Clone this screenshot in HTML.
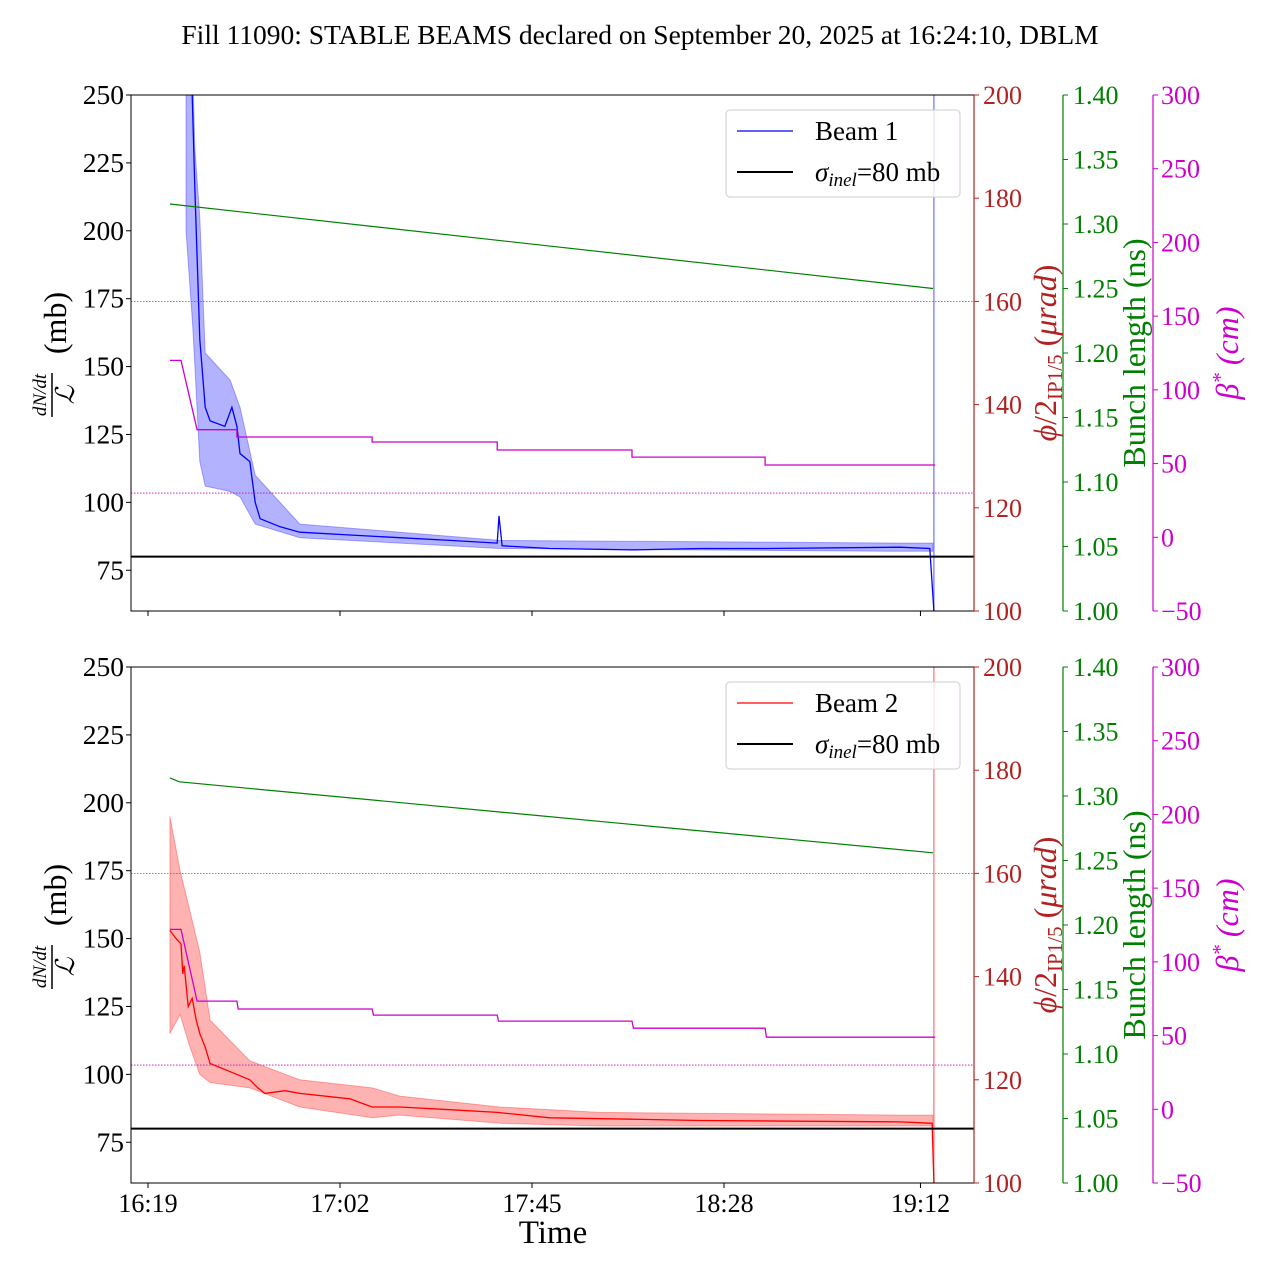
<!DOCTYPE html>
<html><head><meta charset="utf-8"><style>
body{margin:0;background:#fff}
svg text{font-family:"Liberation Serif",serif;}
</style></head><body>
<svg id="chart" width="1280" height="1280" viewBox="0 0 1280 1280" xmlns="http://www.w3.org/2000/svg">
<text x="640" y="44" font-size="27.5" text-anchor="middle">Fill 11090: STABLE BEAMS declared on September 20, 2025 at 16:24:10, DBLM</text>
<g id="root"></g>
</svg>
<script>
// time in minutes since 16:19
const xTickLabels=["16:19","17:02","17:45","18:28","19:12"];
const xTickMinutes=[0,43,86,129,173];
const leftTicks=[75,100,125,150,175,200,225,250];
const redTicks=[100,120,140,160,180,200];
const greenTicks=[1.00,1.05,1.10,1.15,1.20,1.25,1.30,1.35,1.40];
const magTicks=[-50,0,50,100,150,200,250,300];

const b1Time=[8.5,9.9,10.5,11.6,12.8,13.9,17.2,18.8,19.9,20.6,22.8,24.0,25.1,29.6,34.0,45.2,56.4,67.6,78.2,78.6,79.3,90.0,108.4,123.6,138.2,168.4,175.1,176.0];
const b1Value=[280,250,215,160,135,130,128,135,128,118,115,100,94,91,89,88,87,86,85,95,84,83,82.5,83,83,83.5,83,60];
const b1BandTime=[8.5,10.0,10.5,11.6,12.8,18.4,20.6,24.0,34.0,56.4,78.8,168.4,175.8];
const b1Upper=[300,260,230,205,155,145,135,110,92,89,86,85,85];
const b1Lower=[200,165,150,115,106,104,102,92,87,85,83,82,82];

const b2Time=[4.9,6.3,7.4,7.8,8.1,9.0,9.9,10.8,11.6,12.8,13.9,18.4,22.8,24.6,26.2,30.7,34.0,45.2,50.2,56.4,67.6,78.2,90.0,108.4,123.6,168.4,175.6,176.0];
const b2Value=[153,150,148,137,140,125,128,120,115,110,104,101,98,95,93,94,93,91,88,88,87,86,84,83.5,83,82.5,82,60];
const b2BandTime=[4.9,7.2,9.4,11.6,13.9,22.8,34.0,50.2,56.4,78.8,101.2,168.4,175.8];
const b2Upper=[195,175,160,145,120,105,98,95,92,88,86,85,85];
const b2Lower=[115,122,110,100,97,95,88,84,85,82,81,81,81];

const bunchTime1=[4.9,175.8];const bunch1=[1.3155,1.250];
const bunchTime2=[4.9,7.0,175.8];const bunch2=[1.314,1.311,1.256];
const betaTime1=[4.9,7.4,11.0,19.9,19.9,50.2,50.2,78.2,78.2,108.4,108.4,138.2,138.2,176.3];
const beta1=[120,120,73,73,68,68,64.6,64.6,59.2,59.2,54.4,54.4,49,49];
const betaTime2=[4.9,7.4,11.0,19.9,20.2,50.2,50.5,78.2,78.5,108.4,108.7,138.2,138.5,176.3];
const beta2=[122,122,73.4,73.4,68,68,63.9,63.9,59.8,59.8,55,55,48.9,48.9];
const crossingAngle=160, betaRef=30, sigmaInel=80, dumpTime=176.0;

const NS="http://www.w3.org/2000/svg";
const root=document.getElementById('root');
function el(tag,attrs,parent){const e=document.createElementNS(NS,tag);for(const k in attrs)e.setAttribute(k,attrs[k]);(parent||root).appendChild(e);return e;}
const X0=131,X1=974;
const xs=t=>148+t*192/43;
function pts(ts,vs,fx,fy){return ts.map((t,i)=>fx(t).toFixed(1)+','+fy(vs[i]).toFixed(1)).join(' ');}

function panel(top,idx,bt,bv,bbt,bu,bl,color,fillc,bunchT,bunch,betaT,beta,legendText){
  const bot=top+516;
  const yL=v=>bot-(v-60)/190*516;
  const yR=v=>bot-(v-100)/100*516;
  const yG=v=>bot-(v-1.0)/0.4*516;
  const yM=v=>bot-(v+50)/350*516;
  const g=el('g',{});
  
  
  const cid='clip'+idx;
  const cp=el('clipPath',{id:cid},g);el('rect',{x:X0,y:top,width:X1-X0,height:516},cp);
  const pg=el('g',{'clip-path':'url(#'+cid+')'},g);
  const up=bbt.map((t,i)=>xs(t).toFixed(1)+','+yL(bu[i]).toFixed(1));
  const lo=bbt.map((t,i)=>xs(t).toFixed(1)+','+yL(bl[i]).toFixed(1)).reverse();
  const band=el('polygon',{points:up.concat(lo).join(' '),fill:fillc,'fill-opacity':0.3,stroke:fillc,'stroke-opacity':0.3},pg);
  
  
  const dl=el('line',{x1:xs(dumpTime),x2:xs(dumpTime),y1:top,y2:bot,stroke:color,'stroke-opacity':0.45,'stroke-width':1.5},pg);
  
  
  const ln=el('polyline',{points:pts(bt,bv,xs,yL),fill:'none',stroke:color,'stroke-width':1.3},pg);
  
  
  const sl=el('line',{x1:X0,x2:X1,y1:yL(sigmaInel),y2:yL(sigmaInel),stroke:'#000','stroke-width':2},pg);
  
  
  const cl=el('line',{x1:X0,x2:X1,y1:yR(crossingAngle),y2:yR(crossingAngle),stroke:'#cc3333','stroke-width':0.8,'stroke-dasharray':'1.5,1.5'},pg);
  
  
  const br=el('line',{x1:X0,x2:X1,y1:yM(betaRef),y2:yM(betaRef),stroke:'#cc00cc','stroke-width':0.8,'stroke-dasharray':'1.5,1.5'},pg);
  
  
  const gl=el('polyline',{points:pts(bunchT,bunch,xs,yG),fill:'none',stroke:'green','stroke-width':1.2},pg);
  
  
  const ml=el('polyline',{points:pts(betaT,beta,xs,yM),fill:'none',stroke:'#cc00cc','stroke-width':1.3},pg);
  
  
  el('rect',{x:X0,y:top,width:X1-X0,height:516,fill:'none',stroke:'#000','stroke-width':1},g);
  el('line',{x1:X1,x2:X1,y1:top,y2:bot,stroke:'#b22222','stroke-width':1.2},g);
  el('line',{x1:1063,x2:1063,y1:top,y2:bot,stroke:'green','stroke-width':1.2},g);
  el('line',{x1:1153,x2:1153,y1:top,y2:bot,stroke:'#cc00cc','stroke-width':1.2},g);
  leftTicks.forEach(v=>{const y=yL(v);el('line',{x1:X0-5,x2:X0,y1:y,y2:y,stroke:'#000'},g);
    const t=el('text',{x:X0-7,y:y+9,'font-size':27.5,'text-anchor':'end'},g);t.textContent=v;
    });
  redTicks.forEach(v=>{const y=yR(v);el('line',{x1:X1,x2:X1+5,y1:y,y2:y,stroke:'#b22222'},g);
    const t=el('text',{x:X1+9,y:y+9,'font-size':26,fill:'#b22222'},g);t.textContent=v;
    });
  greenTicks.forEach(v=>{const y=yG(v);el('line',{x1:1063,x2:1068,y1:y,y2:y,stroke:'green'},g);
    const t=el('text',{x:1073,y:y+9,'font-size':26,fill:'green'},g);t.textContent=v.toFixed(2);
    });
  magTicks.forEach(v=>{const y=yM(v);el('line',{x1:1153,x2:1158,y1:y,y2:y,stroke:'#cc00cc'},g);
    const t=el('text',{x:1161,y:y+9,'font-size':26,fill:'#cc00cc'},g);t.textContent=(v<0?'\u2212'+(-v):v);
    });
  xTickMinutes.forEach((m,i)=>{const x=xs(m);el('line',{x1:x,x2:x,y1:bot,y2:bot+5,stroke:'#000'},g);
    if(idx===2){const t=el('text',{x:x,y:bot+29,'font-size':26,'text-anchor':'middle'},g);t.textContent=xTickLabels[i];
    }});
  const cy=top+258;
  const lt=el('g',{transform:`translate(58,${cy}) rotate(-90)`},g);
  
  let t=el('text',{x:-42,y:-12,'font-size':19,'font-style':'italic','text-anchor':'middle'},lt);t.textContent='dN/dt';
  el('line',{x1:-64,x2:-20,y1:-6,y2:-6,stroke:'#000','stroke-width':1.5},lt);
  t=el('text',{x:-42,y:16,'font-size':26,'font-style':'italic','text-anchor':'middle'},lt);t.textContent='\u2112';
  t=el('text',{x:30,y:8,'font-size':32,'text-anchor':'middle'},lt);t.textContent='(mb)';
  const rt=el('text',{transform:`translate(1056,${cy}) rotate(-90)`,'font-size':32,fill:'#b22222','text-anchor':'middle'},g);
  
  rt.innerHTML='<tspan font-style="italic">\u03d5</tspan>/2<tspan font-size="21" dy="6">IP1/5</tspan><tspan dy="-6"> (</tspan><tspan font-style="italic">\u03bcrad</tspan>)';
  const gt=el('text',{transform:`translate(1145,${cy}) rotate(-90)`,'font-size':32,fill:'green','text-anchor':'middle'},g);
  gt.textContent='Bunch length (ns)';
  const mt=el('text',{transform:`translate(1238,${cy}) rotate(-90)`,'font-size':32,fill:'#cc00cc','text-anchor':'middle','font-style':'italic'},g);
  
  mt.innerHTML='\u03b2<tspan font-size="21" dy="-11">*</tspan><tspan dy="11"> (cm)</tspan>';
  const lg=el('g',{},g);
  el('rect',{x:726,y:top+15,width:234,height:87,rx:4,fill:'#fff','fill-opacity':0.8,stroke:'#ccc'},lg);
  el('line',{x1:737,x2:793,y1:top+36,y2:top+36,stroke:color,'stroke-width':1.3},lg);
  t=el('text',{x:815,y:top+45,'font-size':27},lg);t.textContent=legendText;
  el('line',{x1:737,x2:793,y1:top+77,y2:top+77,stroke:'#000','stroke-width':2},lg);
  t=el('text',{x:815,y:top+86,'font-size':27},lg);
  t.innerHTML='<tspan font-style="italic">\u03c3</tspan><tspan font-size="19" font-style="italic" dy="5">inel</tspan><tspan dy="-5">=80 mb</tspan>';
}
panel(95,1,b1Time,b1Value,b1BandTime,b1Upper,b1Lower,'#0000ff','#0000ff',bunchTime1,bunch1,betaTime1,beta1,'Beam 1');
panel(667,2,b2Time,b2Value,b2BandTime,b2Upper,b2Lower,'#ff0000','#ff0000',bunchTime2,bunch2,betaTime2,beta2,'Beam 2');
const xt=el('text',{x:553,y:1243,'font-size':33,'text-anchor':'middle'});
xt.textContent='Time';


</script>
</body></html>
